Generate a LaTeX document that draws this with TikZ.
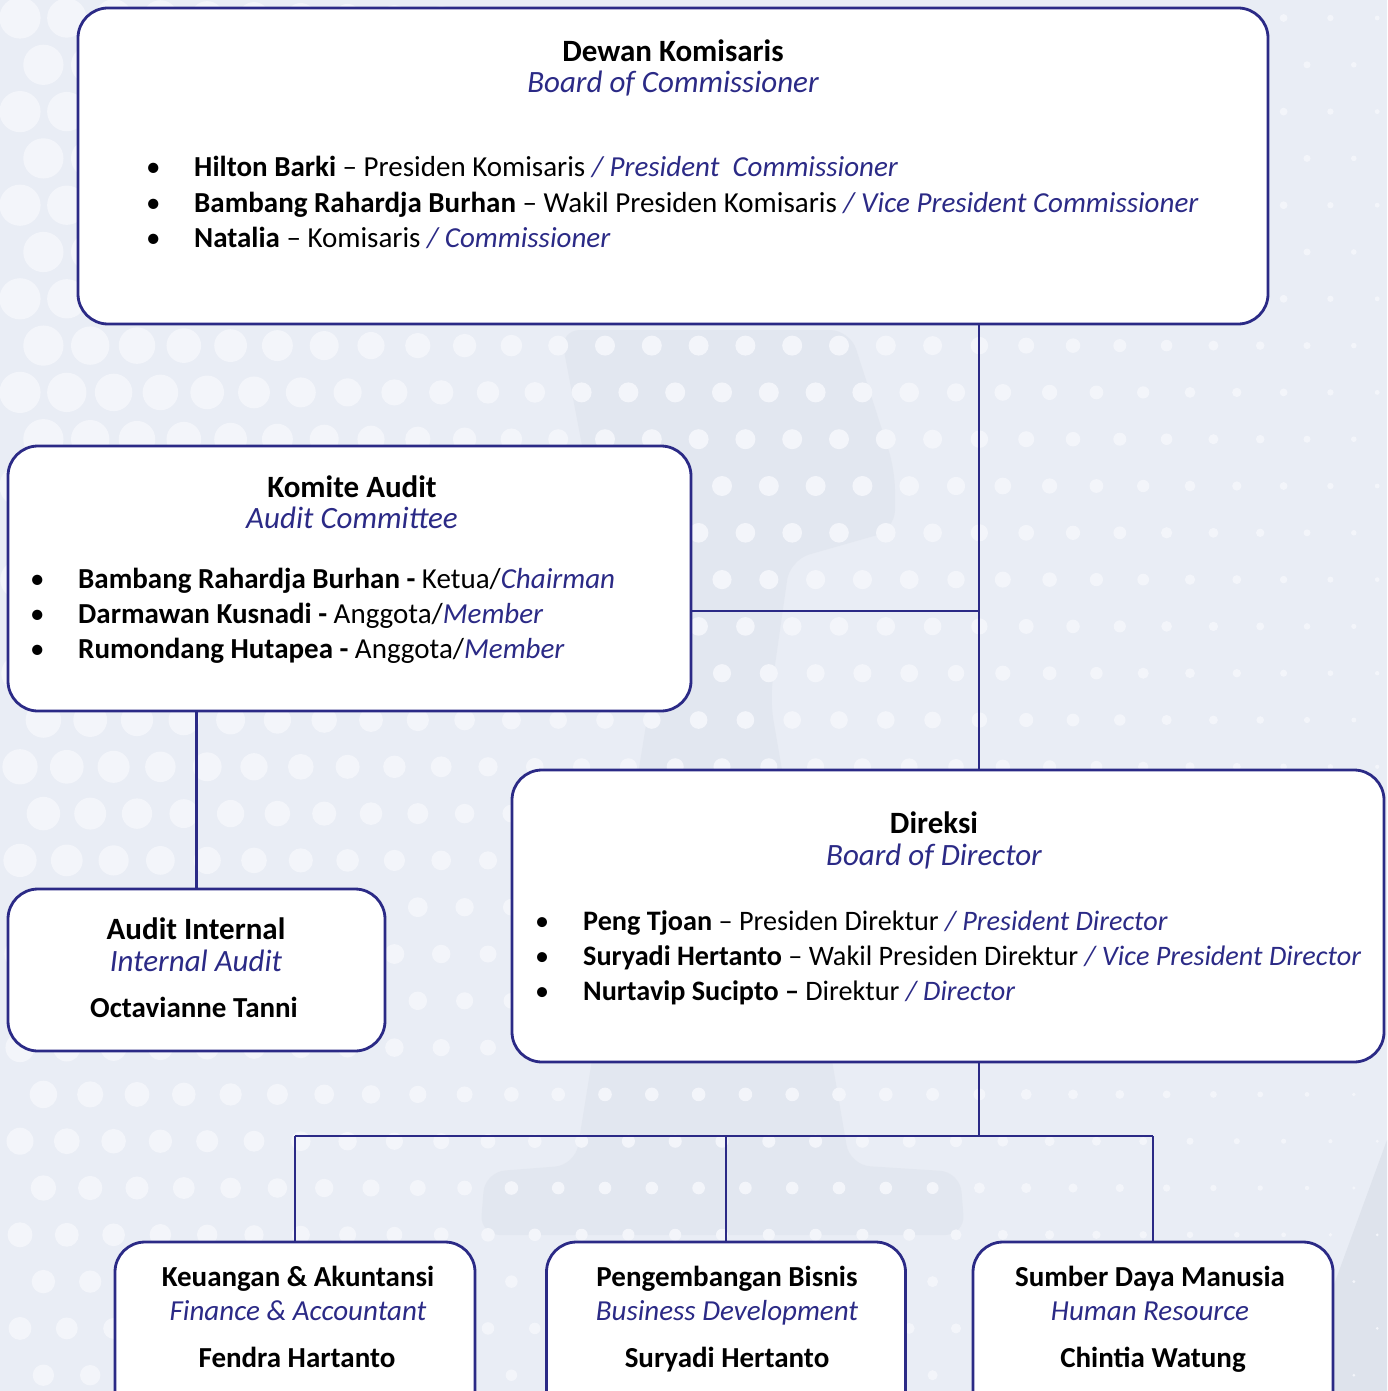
\documentclass[tikz,border=0pt]{standalone}
\usepackage{fontspec}
\setmainfont{Carlito}
\usepackage{tikz}
\usetikzlibrary{
	positioning
}

\definecolor{navy}{HTML}{2B2A86}
\definecolor{bgcol}{HTML}{E9EDF5}
\definecolor{dotcol}{HTML}{F3F5FA}
\definecolor{shadecol}{HTML}{DEE3EC}

\tikzset{
	box/.style={draw=navy, line width=2.8pt, rounded corners=30pt, fill=white, inner sep=0pt},
	link/.style={draw=navy, line width=2.8pt},
	head/.style={font=\fontsize{31}{37}\selectfont\bfseries, anchor=base, inner sep=0pt},
	sub/.style={font=\fontsize{31}{37}\selectfont\itshape, text=navy, anchor=base, inner sep=0pt},
	item/.style={font=\fontsize{29}{35}\selectfont, anchor=base west, inner sep=0pt},
	ditem/.style={item, font=\fontsize{28.2}{35}\selectfont},
	who/.style={font=\fontsize{29}{35}\selectfont\bfseries, anchor=base, inner sep=0pt},
	whosub/.style={sub, font=\fontsize{29}{35}\selectfont\itshape}
}
\newcommand{\bul}{\makebox[48pt][l]{•}}
\newcommand{\eng}[1]{\textcolor{navy}{\itshape #1}}

\begin{document}
\begin{tikzpicture}[x=1pt, y=-1pt]
	\useasboundingbox (0,0) rectangle (1387,1391);
	\clip (0,0) rectangle (1387,1391);
	\fill[bgcol] (0,0) rectangle (1387,1391);

	% background pattern
	\fill[shadecol, opacity=0.55, rounded corners=20pt]
		(560,330) -- (850,330) -- (895,470) -- (895,530) -- (790,560) -- (770,700)
		-- (850,1165) -- (960,1172) -- (965,1235) -- (480,1235) -- (485,1172)
		-- (575,1165) -- (650,700) -- (600,540) -- cycle;
	\fill[shadecol] (1387,1140) -- (1387,1391) -- (1295,1391) -- cycle;
	\foreach \j in {0,...,29} {
		\foreach \i in {0,...,30} {
			\pgfmathsetmacro\px{20+46.8*\i+23.4*mod(\j,2)}
			\pgfmathsetmacro\py{18+46.8*\j}
			\pgfmathsetmacro\rx{\px<900 ? 10+11*max(0,1-\px/550) : 10-7.5*(\px-900)/473}
			\pgfmathsetmacro\r{max(1.5,\rx*(1-0.45*max(0,\py-500)/840))}
			\fill[dotcol] (\px,\py) circle[radius=\r];
		}
	}

	% boxes
	\node[box, minimum width=1190pt, minimum height=316pt] (dk) at (673,166) {};
	\node[box, minimum width=683pt, minimum height=265pt] (ka) at (349.5,578.5) {};
	\node[box, minimum width=377pt, minimum height=162pt] (ai) at (196.5,970) {};
	\node[box, minimum width=872pt, minimum height=292pt] (dr) at (948,916) {};
	\node[box, minimum width=360pt, minimum height=180pt] (fk) at (295,1332) {};
	\node[box, minimum width=359pt, minimum height=180pt] (pb) at (726,1332) {};
	\node[box, minimum width=360pt, minimum height=180pt] (sdm) at (1153,1332) {};

	% dewan komisaris
	\node[head] (dkh) at (673,62) {Dewan Komisaris};
	\node[sub] (dks) at (673,93) {Board of Commissioner};
	\node[item] (dk1) at (146,177) {\bul\textbf{Hilton Barki} -- Presiden Komisaris \eng{/ President\ \ Commissioner}};
	\node[item] (dk2) at (146,212) {\bul\textbf{Bambang Rahardja Burhan} -- Wakil Presiden Komisaris \eng{/ Vice President Commissioner}};
	\node[item] (dk3) at (146,247) {\bul\textbf{Natalia} -- Komisaris \eng{/ Commissioner}};

	% komite audit
	\node[head] (kah) at (352,497) {Komite Audit};
	\node[sub] (kas) at (352,528) {Audit Committee};
	\node[item] (ka1) at (30,588) {\bul\textbf{Bambang Rahardja Burhan -} Ketua/\eng{Chairman}};
	\node[item] (ka2) at (30,623) {\bul\textbf{Darmawan Kusnadi -} Anggota/\eng{Member}};
	\node[item] (ka3) at (30,658) {\bul\textbf{Rumondang Hutapea -} Anggota/\eng{Member}};

	% audit internal
	\node[head] (aih) at (196,939) {Audit Internal};
	\node[sub] (ais) at (196,971) {Internal Audit};
	\node[who] (ain) at (194,1017) {Octavianne Tanni};

	% direksi
	\node[head] (drh) at (934,833) {Direksi};
	\node[sub] (drs) at (934,865) {Board of Director};
	\node[ditem] (dr1) at (535,930) {\bul\textbf{Peng Tjoan} -- Presiden Direktur \eng{/ President Director}};
	\node[ditem] (dr2) at (535,965) {\bul\textbf{Suryadi Hertanto} -- Wakil Presiden Direktur \eng{/ Vice President Director}};
	\node[ditem] (dr3) at (535,1000) {\bul\textbf{Nurtavip Sucipto --} Direktur \eng{/ Director}};

	% divisions
	\node[who] (fkh) at (298,1286) {Keuangan \& Akuntansi};
	\node[whosub] (fks) at (298,1320) {Finance \& Accountant};
	\node[who] (fkn) at (297,1367) {Fendra Hartanto};
	\node[who] (pbh) at (727,1286) {Pengembangan Bisnis};
	\node[whosub] (pbs) at (727,1320) {Business Development};
	\node[who] (pbn) at (727,1367) {Suryadi Hertanto};
	\node[who] (sdmh) at (1150,1286) {Sumber Daya Manusia};
	\node[whosub] (sdms) at (1150,1320) {Human Resource};
	\node[who] (sdmn) at (1153,1367) {Chintia Watung};

	% connectors
	\coordinate (spine) at (979,0);
	\coordinate (tap) at (979,611);
	\coordinate (bus) at (979,1136);
	\draw[link] (dk.south -| spine) -- (dr.north -| spine);
	\draw[link] (ka.east |- tap) -- (tap);
	\draw[link] (ka.south -| ai.north) -- (ai.north);
	\draw[link] (dr.south -| spine) -- (bus);
	\draw[link] (fk.north |- bus) -- (sdm.north |- bus);
	\draw[link] (fk.north |- bus) -- (fk.north);
	\draw[link] (pb.north |- bus) -- (pb.north);
	\draw[link] (sdm.north |- bus) -- (sdm.north);
\end{tikzpicture}
\end{document}
